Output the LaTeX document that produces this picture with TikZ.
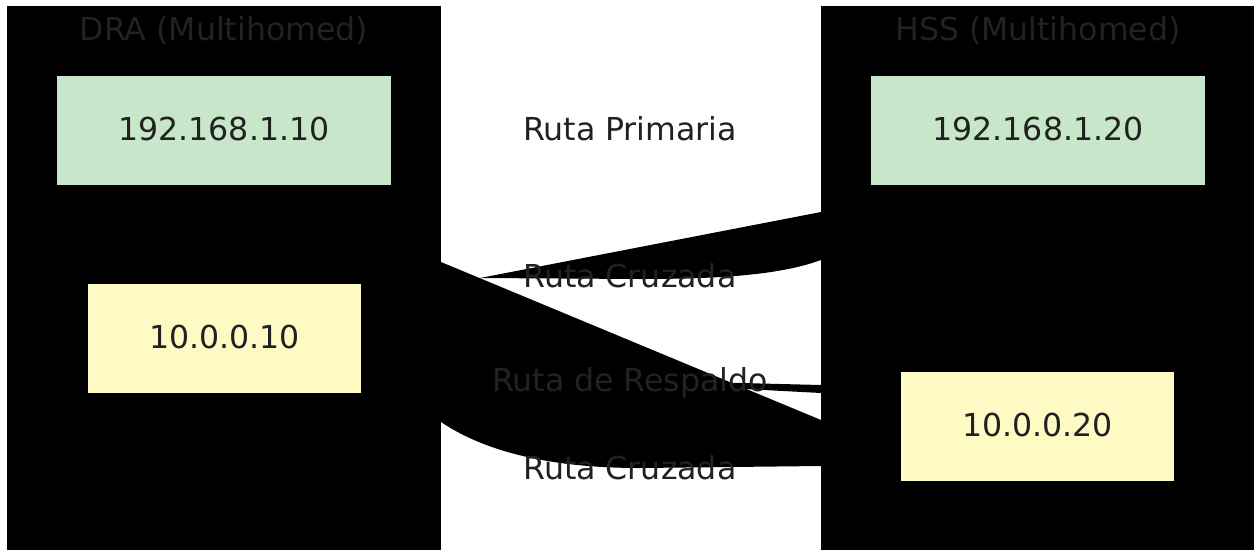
\documentclass[tikz,border=0pt]{standalone}
\usepackage{fontspec}
\setmainfont{DejaVu Sans}
\definecolor{ipgreen}{HTML}{C8E6C9}
\definecolor{ipyellow}{HTML}{FFF9C4}
\definecolor{txt}{HTML}{212121}
\definecolor{ttl}{HTML}{222222}
\begin{document}
\begin{tikzpicture}[x=1pt,y=-1pt,
  lbl/.style={font=\fontsize{31.6}{36}\selectfont, text=txt, text height=23pt, text depth=0pt, inner sep=0pt},
  ttlstyle/.style={lbl, text=ttl},
  cluster/.style={fill=black, draw=none},
  ipbox/.style={draw=none, minimum height=109pt, inner sep=0pt, font=\fontsize{31.6}{36}\selectfont, text=txt, text height=23pt, text depth=0pt},
  edgefill/.style={fill=black, draw=none}]
\useasboundingbox (0,0) rectangle (1254,550);
% clusters
\fill[cluster] (7,6) rectangle (441,550);
\fill[cluster] (821,6) rectangle (1254,550);
\node[ttlstyle] (draT) at (224,28.5) {DRA (Multihomed)};
\node[ttlstyle] (hssT) at (1038,28.5) {HSS (Multihomed)};
% edge shapes
\fill[edgefill] (441,262) -- (821,420) -- (821,466) -- (640,468)
  .. controls (560,468) and (490,455) .. (441,422) -- cycle;
\fill[edgefill] (480,278) -- (821,212) -- (821,260)
  .. controls (780,275) and (720,279) .. (640,279) -- cycle;
\fill[edgefill] (700,382) -- (821,385) -- (821,393) -- (745,389) -- cycle;
% nodes
\node[ipbox, fill=ipgreen, minimum width=334pt] (a1) at (224,130.5) {\raisebox{1.5pt}{192.168.1.10}};
\node[ipbox, fill=ipyellow, minimum width=273pt] (a2) at (224.5,338.5) {\raisebox{1.5pt}{10.0.0.10}};
\node[ipbox, fill=ipgreen, minimum width=334pt] (b1) at (1038,130.5) {\raisebox{1.5pt}{192.168.1.20}};
\node[ipbox, fill=ipyellow, minimum width=273pt] (b2) at (1037.5,426.5) {\raisebox{1.5pt}{10.0.0.20}};
% edge labels
\node[lbl] (l1) at (630,128.5) {Ruta Primaria};
\node[lbl] (l2) at (630,275.5) {Ruta Cruzada};
\node[lbl, text=ttl] (l3) at (630,379.5) {Ruta de Respaldo};
\node[lbl] (l4) at (630,467.5) {Ruta Cruzada};
\end{tikzpicture}
\end{document}
